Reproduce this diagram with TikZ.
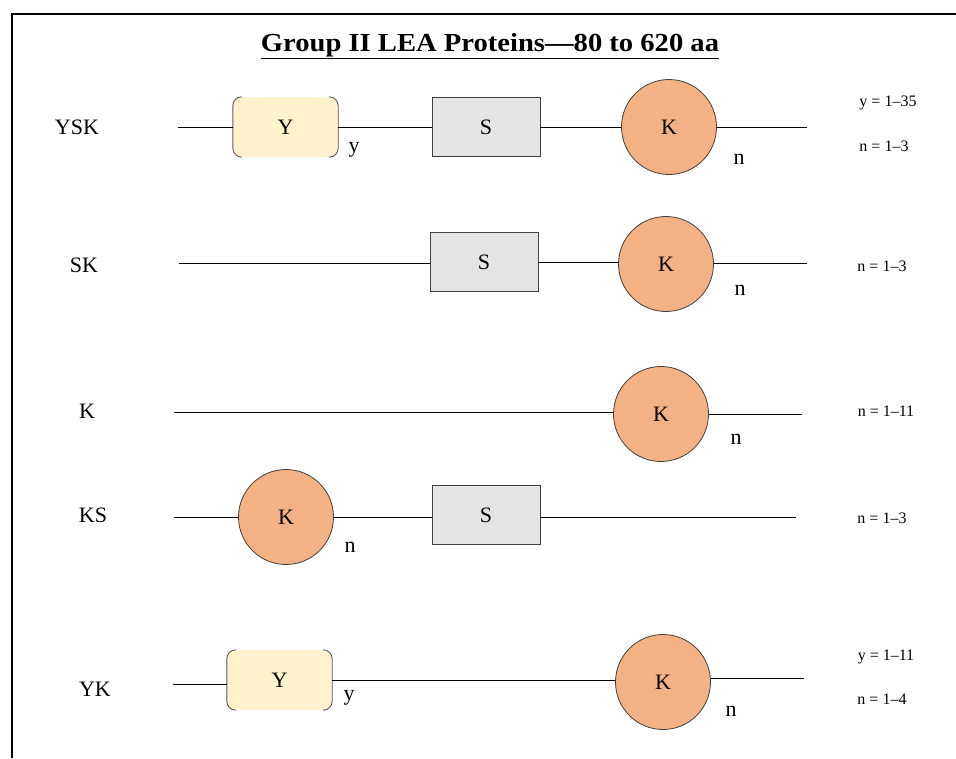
\documentclass[tikz,border=0pt]{standalone}
\usepackage{fontspec}
\setmainfont{Liberation Serif}
\usetikzlibrary{calc}
\definecolor{kfill}{HTML}{F4B183}
\definecolor{sgray}{HTML}{E4E4E4}
\definecolor{yfill}{HTML}{FFF2CC}
\newcommand\ybrackets[1]{%
  \draw[brk] ([xshift=9pt]#1.north west) -- (#1.north west) -- (#1.south west) -- ([xshift=9pt]#1.south west);
  \draw[brk] ([xshift=-9pt]#1.north east) -- (#1.north east) -- (#1.south east) -- ([xshift=-9pt]#1.south east);}
\begin{document}
\begin{tikzpicture}[x=1pt,y=-1pt,
  big/.style={font=\fontsize{22}{26}\selectfont},
  sbox/.style={big, draw=black!75, line width=0.8pt, fill=sgray, minimum width=108pt, minimum height=59pt, inner sep=0pt},
  kcirc/.style={big, circle, draw=black!75, line width=0.8pt, fill=kfill, minimum size=95pt, inner sep=0pt},
  ybox/.style={big, fill=yfill, rounded corners=9pt, minimum width=105pt, minimum height=60pt, inner sep=0pt},
  brk/.style={draw=black!65, line width=0.9pt, rounded corners=9pt},
  conn/.style={line width=0.8pt},
  lbl/.style={big},
  note/.style={font=\fontsize{16}{18}\selectfont}]
\useasboundingbox (0,0) rectangle (956,758);
\draw[line width=1.6pt] (12,758) -- (12,14) -- (956,14);
\node[font=\bfseries\fontsize{26}{30}\selectfont] (title) at (490,46) {\scalebox{1.1}[1]{\underline{Group II LEA Proteins---80 to 620 aa}}};

% Row 1 YSK
\node[lbl] (l1) at (77,127) {YSK};
\coordinate (a1) at (178,127);
\coordinate (b1) at (807,127);
\node[ybox] (y1) at (285.5,127) {Y};
\ybrackets{y1}
\node[sbox] (s1) at (486,127) {S};
\node[kcirc] (k1) at (669,127) {K};
\draw[conn] (a1) -- (y1.west);
\draw[conn] (y1.east) -- (s1.west);
\draw[conn] (s1.east) -- (k1.west);
\draw[conn] (k1.east) -- (b1);
\node[lbl] (ny1) at (354,150) {y};
\node[lbl] (nn1) at (739,159) {n};
\node[note] (t1a) at (888,103) {y = 1--35};
\node[note] (t1b) at (884,146) {n = 1--3};

% Row 2 SK
\node[lbl] (l2) at (84,265) {SK};
\coordinate (a2) at (179,263);
\coordinate (b2) at (807,263);
\node[sbox] (s2) at (484,262) {S};
\node[kcirc] (k2) at (666,264) {K};
\draw[conn] (a2) -- (a2 -| s2.west);
\draw[conn] (s2.east) -- (s2.east -| k2.west);
\draw[conn] (k2.east |- b2) -- (b2);
\node[lbl] (nn2) at (740,290) {n};
\node[note] (t2) at (882,266) {n = 1--3};

% Row 3 K
\node[lbl] (l3) at (87,411) {K};
\coordinate (a3) at (174,412);
\coordinate (b3) at (802,414);
\node[kcirc] (k3) at (661,414) {K};
\draw[conn] (a3) -- (a3 -| k3.west);
\draw[conn] (k3.east |- b3) -- (b3);
\node[lbl] (nn3) at (736,439) {n};
\node[note] (t3) at (886,411) {n = 1--11};

% Row 4 KS
\node[lbl] (l4) at (93,515) {KS};
\coordinate (a4) at (174,517);
\coordinate (b4) at (796,517);
\node[kcirc] (k4) at (286,517) {K};
\node[sbox] (s4) at (486,515) {S};
\draw[conn] (a4) -- (k4.west);
\draw[conn] (k4.east) -- (k4.east -| s4.west);
\draw[conn] (s4.east |- b4) -- (b4);
\node[lbl] (nn4) at (350,547) {n};
\node[note] (t4) at (882,518) {n = 1--3};

% Row 5 YK
\node[lbl] (l5) at (95,689) {YK};
\coordinate (a5) at (173,684);
\coordinate (b5) at (804,678);
\node[ybox] (y5) at (279.5,680) {Y};
\ybrackets{y5}
\node[kcirc] (k5) at (663,682) {K};
\draw[conn] (a5) -- (a5 -| y5.west);
\draw[conn] (y5.east) -- (y5.east -| k5.west);
\draw[conn] (k5.east |- b5) -- (b5);
\node[lbl] (ny5) at (349,698) {y};
\node[lbl] (nn5) at (731,711) {n};
\node[note] (t5a) at (886,657) {y = 1--11};
\node[note] (t5b) at (882,699) {n = 1--4};
\end{tikzpicture}
\end{document}
